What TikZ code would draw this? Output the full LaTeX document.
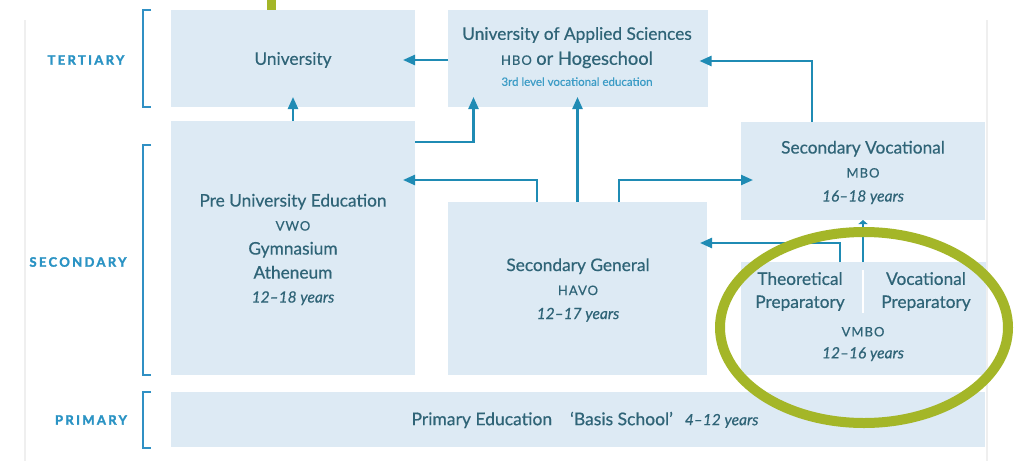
\documentclass[tikz,border=0pt]{standalone}
\usepackage{fontspec}
\setmainfont{Lato}[FakeBold=0.5]
\newfontfamily\labfont{Lato}[LetterSpace=18,FakeBold=2]
\newfontfamily\capfont{Lato}[LetterSpace=8,FakeBold=0.5]
\usetikzlibrary{arrows.meta}
\definecolor{boxfill}{HTML}{DDEAF4}
\definecolor{txtc}{HTML}{2F6477}
\definecolor{arrc}{HTML}{1F8BB4}
\definecolor{labc}{HTML}{2A93C4}
\definecolor{brkc}{HTML}{3090C4}
\definecolor{lightc}{HTML}{3C9CC6}
\definecolor{greenc}{HTML}{A4B628}
\definecolor{cardc}{HTML}{EFEFEF}
\newcommand\smc[1]{{\capfont\fontsize{13}{24}\selectfont #1}}
\newcommand\yrs[1]{{\itshape\fontsize{15.5}{24}\selectfont #1}}
\begin{document}
\begin{tikzpicture}[x=1pt,y=-1pt,
  box/.style={fill=boxfill, draw=none, inner sep=0pt, outer sep=0pt},
  txt/.style={text=txtc, align=center, inner sep=0pt, font=\fontsize{17.3}{24}\selectfont},
  lab/.style={text=labc, inner sep=0pt, font=\labfont\bfseries\fontsize{13}{14}\selectfont},
  arr/.style={draw=arrc, line width=2.3pt, -{Triangle[length=12pt,width=10pt]}},
  arrsmall/.style={draw=arrc, line width=2pt, -{Triangle[length=4pt,width=9pt]}},
  brk/.style={draw=brkc, line width=2pt},
]
\useasboundingbox (0,0) rectangle (1023,461);
\fill[white] (0,0) rectangle (1023,461);
% card edges
\draw[cardc, line width=1.5pt] (25,20) -- (25,461);
\draw[cardc, line width=1.5pt] (987,20) -- (987,461);
\fill[greenc] (267,0) rectangle (276,10);

% boxes
\node[box, minimum width=244pt, minimum height=97pt] (uni) at (293,58.5) {};
\node[box, minimum width=260pt, minimum height=97pt] (uas) at (577.5,58.5) {};
\node[box, minimum width=244pt, minimum height=254pt] (pre) at (293,248) {};
\node[box, minimum width=259pt, minimum height=173pt] (sg) at (577.5,288.5) {};
\node[box, minimum width=244pt, minimum height=98pt] (sv) at (863,171) {};
\node[box, minimum width=245pt, minimum height=113pt] (vmbo) at (863,318.5) {};
\node[box, minimum width=814pt, minimum height=55pt] (prim) at (578,419.5) {};
\draw[white, line width=2pt] (863,270) -- (863,313);

% brackets
\draw[brk] (151,10) -- (143,10) -- (143,107) -- (151,107);
\draw[brk] (151,145) -- (143,145) -- (143,375) -- (151,375);
\draw[brk] (151,392) -- (143,392) -- (143,448) -- (151,448);
\node[lab] (tert) at (86,60) {TERTIARY};
\node[lab] (sec) at (78,262) {SECONDARY};
\node[lab] (primlab) at (91,420) {PRIMARY};

% connectors
\draw[arr] ([yshift=-1.5pt]uas.west) -- ([xshift=-12pt,yshift=-1.5pt]uni.east);
\draw[arr] ([xshift=-51pt]sv.north) |- ([xshift=-8pt,yshift=-2.5pt]uas.east);
\draw[arr] (pre.north) -- ([yshift=10pt]uni.south);
\draw[arr] ([yshift=-21pt]pre.north east) -| ([xshift=26pt,yshift=10pt]uas.south west);
\draw[arr] (sg.north) -- ([yshift=10pt]uas.south);
\draw[arr] ([xshift=-40.5pt]sg.north) |- ([xshift=-12pt,yshift=-59pt]pre.north east);
\draw[arr] ([xshift=41.5pt]sg.north) |- ([xshift=12pt,yshift=-9pt]sv.west);
\draw[arr] ([xshift=-23pt]vmbo.north) |- ([xshift=-7pt,yshift=-41pt]sg.north east);
\draw[arrsmall] (vmbo.north) -- (sv.south);

% texts
\node[txt] (unit) at (293,60) {University};
\node[txt] (uast) at (577,56.5) {University of Applied Sciences\\[1pt]\smc{HBO} {\fontsize{18.3}{24}\selectfont or Hogeschool}\\[-3pt]{\fontsize{11.5}{24}\selectfont\color{lightc}3rd level vocational education}};
\node[txt] (pret) at (293,249.5) {Pre University Education\\\smc{VWO}\\Gymnasium\\Atheneum\\\yrs{12–18 years}};
\node[txt] (sgt) at (578,290) {Secondary General\\\smc{HAVO}\\\yrs{12–17 years}};
\node[txt] (svt) at (863,172.5) {Secondary Vocational\\\smc{MBO}\\\yrs{16–18 years}};
\node[txt] (tht) at (800,291.5) {Theoretical\\[-1pt]Preparatory};
\node[txt] (vot) at (926,291.5) {Vocational\\[-1pt]Preparatory};
\node[txt] (vmt) at (863,344) {\smc{VMBO}\\[-2pt]\yrs{12–16 years}};
\node[txt, font=\fontsize{17.5}{24}\selectfont] (primt) at (585,420) {Primary Education\hspace{18pt}‘Basis School’\hspace{12pt}\yrs{4–12 years}};

% highlight
\draw[greenc, line width=10pt] (864,327.5) ellipse [x radius=144, y radius=95.5];
\end{tikzpicture}
\end{document}
